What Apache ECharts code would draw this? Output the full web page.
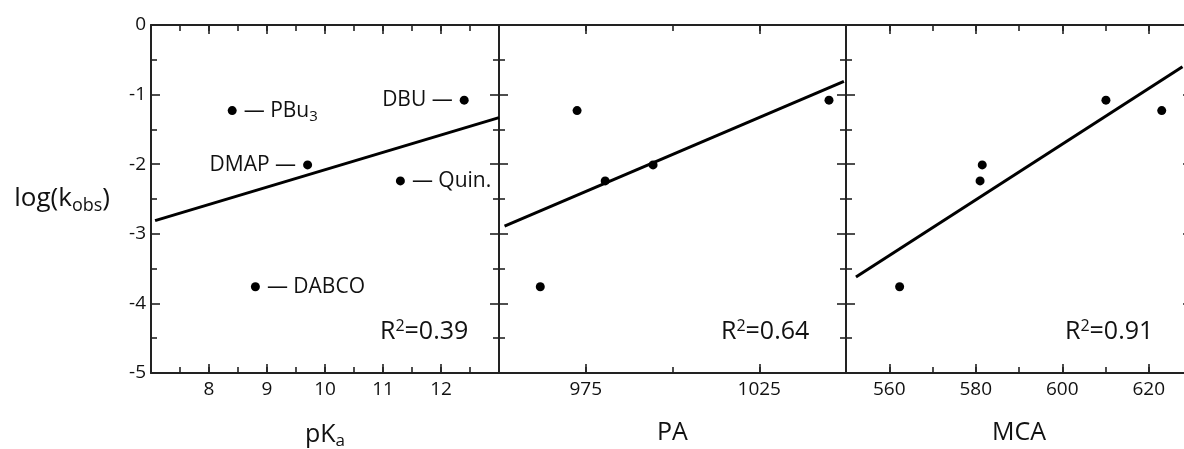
<!DOCTYPE html>
<html><head><meta charset="utf-8">
<script src="https://cdn.jsdelivr.net/npm/echarts@6/dist/echarts.min.js"></script>
<style>html,body{margin:0;padding:0;background:#fff}#c{width:1184px;height:449px}</style>
</head><body><div id="c"></div>
<script>
// ---- data ----
const names = ['PBu3', 'DBU', 'DMAP', 'Quin.', 'DABCO'];
const logk = [-1.23, -1.08, -2.01, -2.24, -3.76];
const pKa = [8.4, 12.4, 9.7, 11.3, 8.8];
const PA = [972.5, 1045.1, 994.4, 980.6, 961.9];
const MCA = [623.0, 610.1, 581.5, 581.0, 562.4];
const labelSides = ['right', 'left', 'left', 'right', 'right'];
const fitPKa = [[7.07, -2.81], [13.0, -1.33]];
const fitPA = [[951.6, -2.89], [1049.4, -0.81]];
const fitMCA = [[552.3, -3.62], [627.8, -0.60]];
const r2 = ['0.39', '0.64', '0.91'];
const xNames = ['pK{s|a}', 'PA', 'MCA'];
const xRanges = [[7, 13], [950, 1050], [550, 630]];
const xMajorTicks = [[8, 9, 10, 11, 12], [975, 1025], [560, 580, 600, 620]];
const xMinorStep = [0.5, 25, 10];
const yRange = [-5, 0];
const yStep = 1;

// ---- styling / layout ----
const FONT = 'Open Sans';
const INK = '#111';
const AX = '#222';
const gridBoxes = [[151, 348], [499, 347], [846, 346]];

const grids = gridBoxes.map(([l, w]) => ({ left: l, top: 25, width: w, height: 348, outerBoundsMode: 'none', containLabel: false }));

const xAxes = [];
const yAxes = [];
for (let i = 0; i < 3; i++) {
  ['bottom', 'top'].forEach(pos => {
    const isBottom = pos === 'bottom';
    xAxes.push({
      type: 'value', gridIndex: i, position: pos, min: xRanges[i][0], max: xRanges[i][1],
      axisLine: { show: true, onZero: false, lineStyle: { color: AX, width: 2 } },
      axisTick: { show: true, inside: true, length: 9, customValues: xMajorTicks[i], lineStyle: { color: AX, width: 1.6 } },
      axisLabel: { show: isBottom, customValues: xMajorTicks[i], margin: 7, fontSize: 19, fontFamily: FONT, color: INK, formatter: v => String(v) },
      splitLine: { show: false },
      name: isBottom ? xNames[i] : '',
      nameLocation: 'middle', nameGap: 47,
      nameTextStyle: { fontSize: 25, fontFamily: FONT, color: INK, rich: { s: { fontSize: 17, fontFamily: FONT, color: INK, padding: [13, 0, 0, 0] } } }
    });
    xAxes.push({
      type: 'value', gridIndex: i, position: pos, min: xRanges[i][0], max: xRanges[i][1], interval: xMinorStep[i],
      axisLine: { show: false, onZero: false },
      axisTick: { show: true, inside: true, length: 6, lineStyle: { color: AX, width: 1.6 } },
      axisLabel: { show: false },
      splitLine: { show: false }
    });
  });
  ['left', 'right'].forEach(pos => {
    const showLab = (i === 0 && pos === 'left');
    yAxes.push({
      type: 'value', gridIndex: i, position: pos, min: yRange[0], max: yRange[1], interval: yStep,
      axisLine: { show: true, onZero: false, lineStyle: { color: AX, width: 2 } },
      axisTick: { show: true, inside: true, length: 9, lineStyle: { color: AX, width: 1.6 } },
      minorTick: { show: true, splitNumber: 2, length: 6, lineStyle: { color: AX, width: 1.6 } },
      axisLabel: { show: showLab, margin: 5, fontSize: 19, fontFamily: FONT, color: INK, formatter: v => String(v) },
      splitLine: { show: false },
      name: showLab ? 'log(k{s|obs})' : '',
      nameLocation: 'middle', nameRotate: 0, nameGap: 41,
      nameTextStyle: { fontSize: 26, fontFamily: FONT, color: INK, rich: { s: { fontSize: 18, fontFamily: FONT, color: INK, padding: [13, 0, 0, 0] } } }
    });
  });
}

const xs = [pKa, PA, MCA];
const fits = [fitPKa, fitPA, fitMCA];
const series = [];
for (let i = 0; i < 3; i++) {
  series.push({
    type: 'line', xAxisIndex: 4 * i, yAxisIndex: 2 * i, data: fits[i],
    showSymbol: false, symbol: 'none', lineStyle: { color: '#000', width: 3 }, silent: true, z: 2
  });
  series.push({
    type: 'scatter', xAxisIndex: 4 * i, yAxisIndex: 2 * i, symbolSize: 9, z: 3,
    itemStyle: { color: '#000', opacity: 1 },
    data: xs[i].map((x, k) => ({
      value: [x, logk[k]],
      label: {
        show: i === 0, position: labelSides[k], distance: 7,
        formatter: () => {
          const n = names[k].replace(/(\d+)$/, '{s|$1}');
          return labelSides[k] === 'right' ? '{d|—} ' + n : n + ' {d|—}';
        },
        fontSize: 21, fontFamily: FONT, color: INK,
        rich: {
          d: { fontSize: 21, fontFamily: FONT, color: INK },
          s: { fontSize: 15, fontFamily: FONT, color: INK, padding: [12, 0, 0, 0] }
        }
      }
    }))
  });
}

const r2Pos = [380, 721, 1065];
const graphic = r2.map((v, i) => ({
  type: 'text', left: r2Pos[i], top: 318, z: 10,
  style: {
    text: 'R{sup|2}=' + v, fontSize: 25, fontFamily: FONT, fill: INK,
    rich: { sup: { fontSize: 16, fontFamily: FONT, fill: INK, padding: [0, 0, 12, 0] } }
  }
}));

const chart = echarts.init(document.getElementById('c'), null, { renderer: 'canvas' });
chart.setOption({
  animation: false,
  backgroundColor: '#fff',
  grid: grids, xAxis: xAxes, yAxis: yAxes, series: series, graphic: graphic
});
</script></body></html>
